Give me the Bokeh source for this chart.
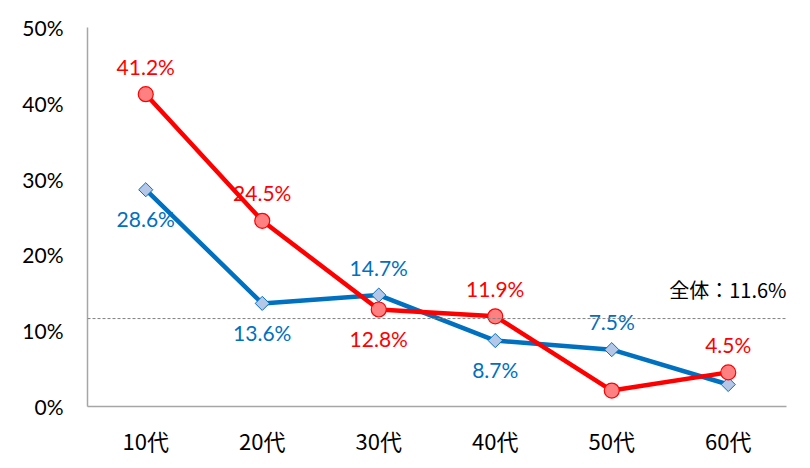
import math
from bokeh.plotting import figure
from bokeh.models import ColumnDataSource, Span, Label, FactorRange, Range1d, CustomJSTickFormatter
from bokeh.embed import file_html
from bokeh.resources import INLINE
from bokeh.core.properties import value

categories = ["10代", "20代", "30代", "40代", "50代", "60代"]
red_values = [41.2, 24.5, 12.8, 11.9, 2.1, 4.5]
blue_values = [28.6, 13.6, 14.7, 8.7, 7.5, 2.9]
red_label_side = ["above", "above", "below", "above", "below", "above"]
blue_label_side = ["below", "below", "above", "below", "above", "below"]
overall = 11.6
overall_label = "全体：11.6%"

RED = "#FF0000"
BLUE = "#0070C0"
FONT = "Lato"

p = figure(width=802, height=460, x_range=FactorRange(*categories, range_padding=0),
           y_range=Range1d(0, 50), output_backend="svg", toolbar_location=None,
           min_border_left=87, min_border_top=27, min_border_right=16, min_border_bottom=54)
p.outline_line_color = None
p.grid.visible = False
p.background_fill_color = "white"

for ax in (p.xaxis[0], p.yaxis[0]):
    ax.axis_line_color = "#A6A6A6"
    ax.axis_line_width = 1.5
    ax.major_tick_line_color = None
    ax.minor_tick_line_color = None
    ax.major_label_text_color = "black"
p.yaxis.ticker = [0, 10, 20, 30, 40, 50]
p.yaxis.formatter = CustomJSTickFormatter(code="return tick + '%';")
p.yaxis.major_label_standoff = 18
p.yaxis.major_label_text_font = FONT
p.yaxis.major_label_text_font_size = "21px"
p.xaxis.major_label_standoff = 11
p.xaxis.major_label_text_font = "Noto Sans CJK JP"
p.xaxis.major_label_text_font_size = "22px"

p.add_layout(Span(location=overall, dimension="width", line_color="#808080",
                  line_dash="3 2", line_width=1))

def offsets(sides):
    return [-28 if s == "above" else 29 for s in sides]

blue_src = ColumnDataSource(dict(x=categories, y=blue_values,
                                 t=[f"{v:.1f}%" for v in blue_values],
                                 yo=offsets(blue_label_side)))
red_src = ColumnDataSource(dict(x=categories, y=red_values,
                                t=[f"{v:.1f}%" for v in red_values],
                                yo=offsets(red_label_side)))

p.line("x", "y", source=blue_src, line_color=BLUE, line_width=4.5)
p.scatter("x", "y", source=blue_src, marker="square", size=10, angle=math.pi / 4,
          fill_color="#B4C7E7", line_color=BLUE, line_width=1)
p.line("x", "y", source=red_src, line_color=RED, line_width=4.5)
p.scatter("x", "y", source=red_src, marker="circle", size=15,
          fill_color="#FF8080", line_color=RED, line_width=1.2)

p.text("x", "y", text="t", source=blue_src, y_offset="yo", text_color=BLUE,
       text_font=value(FONT), text_font_size="21px", text_align="center",
       text_baseline="middle")
p.text("x", "y", text="t", source=red_src, y_offset="yo", text_color=RED,
       text_font=value(FONT), text_font_size="21px", text_align="center",
       text_baseline="middle")

p.add_layout(Label(x=6, y=overall, y_offset=29,
                   text=overall_label, text_align="right", text_baseline="middle",
                   text_font="Noto Sans CJK JP", text_font_size="20px", text_color="black"))

open("out.html", "w").write(file_html(p, INLINE))
